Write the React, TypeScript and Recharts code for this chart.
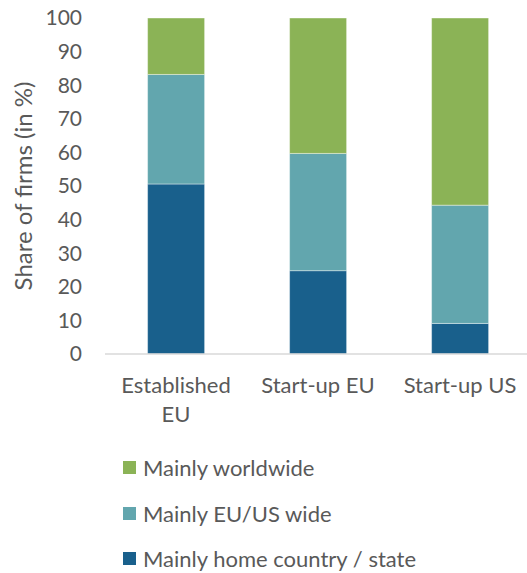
import { BarChart, Bar, XAxis, YAxis, Legend } from 'recharts';

const categories = ['Established\nEU', 'Start-up EU', 'Start-up US'];
const homeCountry = [50.6, 24.8, 9.1];
const euUsWide = [32.6, 34.9, 35.2];
const worldwide = [16.8, 40.3, 55.7];
const yTicks = [0, 10, 20, 30, 40, 50, 60, 70, 80, 90, 100];

const series = [
  { key: 'home', name: 'Mainly home country / state', color: '#19608c', values: homeCountry },
  { key: 'euus', name: 'Mainly EU/US wide', color: '#62a6ae', values: euUsWide },
  { key: 'world', name: 'Mainly worldwide', color: '#8bb356', values: worldwide },
];

const data = categories.map((c, i) => {
  const row: Record<string, string | number> = { category: c };
  series.forEach((s) => {
    row[s.key] = s.values[i];
  });
  return row;
});

const FONT = 'Lato, "Open Sans", sans-serif';
const TEXT = '#595959';

const CategoryTick = (props: any) => {
  const { x, y, payload } = props;
  const lines = String(payload.value).split('\n');
  return (
    <text x={x} y={y} textAnchor="middle" fill={TEXT} fontSize={22} fontFamily={FONT}>
      {lines.map((line, i) => (
        <tspan key={i} x={x} dy={i === 0 ? 31 : 29}>
          {line}
        </tspan>
      ))}
    </text>
  );
};

const renderLegend = () => (
  <div style={{ fontFamily: FONT, fontSize: 22, color: TEXT }}>
    {[...series].reverse().map((s) => (
      <div key={s.key} style={{ display: 'flex', alignItems: 'center', height: 45.5 }}>
        <span style={{ width: 13, height: 13, background: s.color, marginRight: 7, display: 'inline-block' }} />
        <span>{s.name}</span>
      </div>
    ))}
  </div>
);

export default function App() {
  return (
    <div style={{ position: 'absolute', top: 0, left: 0, width: 527, height: 573, overflow: 'hidden', background: '#fff' }}>
      <BarChart
        width={531}
        height={573}
        data={data}
        margin={{ top: 18, right: 0, left: 0, bottom: 159 }}
        barCategoryGap="30%"
      >
        <XAxis
          dataKey="category"
          tickLine={false}
          axisLine={{ stroke: '#d9d9d9', strokeWidth: 1.5 }}
          tick={<CategoryTick />}
          height={60}
          interval={0}
        />
        <YAxis
          width={105}
          domain={[0, 100]}
          ticks={yTicks}
          tickLine={false}
          axisLine={false}
          tickMargin={17}
          tick={{ fill: TEXT, fontSize: 21, fontFamily: FONT }}
          label={{
            value: 'Share of firms (in %)',
            angle: -90,
            position: 'insideLeft',
            offset: 23,
            style: { textAnchor: 'middle', fill: TEXT, fontSize: 24, fontFamily: FONT },
          }}
        />
        {series.map((s) => (
          <Bar
            key={s.key}
            dataKey={s.key}
            name={s.name}
            stackId="a"
            fill={s.color}
            stroke="#ffffff"
            strokeOpacity={0.4}
            strokeWidth={1}
            isAnimationActive={false}
          />
        ))}
        <Legend
          layout="vertical"
          align="center"
          verticalAlign="middle"
          content={renderLegend}
          wrapperStyle={{ position: 'absolute', top: 445, left: 123, width: 380 }}
        />
      </BarChart>
    </div>
  );
}
